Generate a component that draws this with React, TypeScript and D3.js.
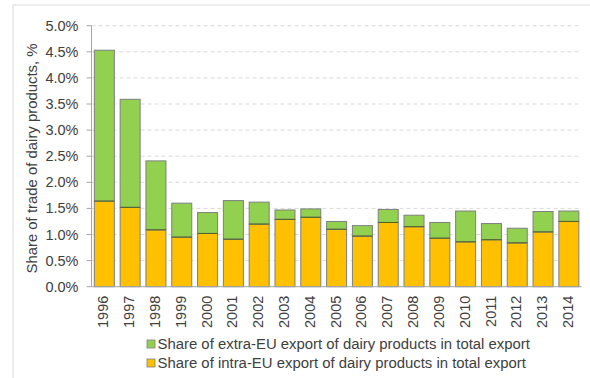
import React from "react";
import * as d3 from "d3";

const years = ["1996","1997","1998","1999","2000","2001","2002","2003","2004","2005","2006","2007","2008","2009","2010","2011","2012","2013","2014"];
const intraEU = [1.64,1.52,1.09,0.95,1.02,0.91,1.20,1.29,1.33,1.10,0.97,1.23,1.15,0.93,0.86,0.90,0.84,1.05,1.25];
const totalShare = [4.53,3.59,2.41,1.60,1.42,1.65,1.62,1.47,1.49,1.25,1.17,1.48,1.37,1.23,1.45,1.21,1.12,1.44,1.45];
const extraEU = totalShare.map((t, i) => +(t - intraEU[i]).toFixed(2));
const yTicks = [0,0.5,1,1.5,2,2.5,3,3.5,4,4.5,5];
const legendLabels = [
  "Share of extra-EU export of dairy products in total export",
  "Share of intra-EU export of dairy products in total export",
];
const colors = { extra: "#92D050", intra: "#FFC000" };

export default function App() {
  const W = 590, H = 378;
  const left = 91.5, right = 581.7, top = 25.7, bottom = 286.7;
  const x = d3.scaleBand().domain(years).range([left, right]).paddingInner(0.225).paddingOuter(0.11);
  const y = d3.scaleLinear().domain([0, 5]).range([bottom, top]);
  const font = "'Liberation Sans', Arial, sans-serif";
  const txt = "#404040";
  const fs = 14.5;
  const fsBig = 14.9;
  return (
    <svg width={W} height={H} style={{ position: "absolute", left: 0, top: 0, background: "#fff" }} fontFamily={font}>
      <rect x={13} y={5} width={W} height={H} fill="none" stroke="#e6e6e6" strokeWidth={1.5} />
      {yTicks.map((t) => (
        <g key={t}>
          {t > 0 && (
            <line x1={left} x2={right} y1={y(t)} y2={y(t)} stroke="#d9d9d9" strokeDasharray="4,3" strokeWidth={1} />
          )}
          <line x1={left - 5} x2={left} y1={y(t)} y2={y(t)} stroke="#a6a6a6" />
          <text x={78.5} y={y(t)} dy="0.35em" textAnchor="end" fontSize={fs} fill={txt}>
            {t.toFixed(1)}%
          </text>
        </g>
      ))}
      {years.map((yr, i) => {
        const bx = x(yr)!;
        const bw = x.bandwidth();
        return (
          <g key={yr}>
            <rect x={bx} y={y(intraEU[i])} width={bw} height={y(0) - y(intraEU[i])} fill={colors.intra} stroke="#7f7f7f" strokeWidth={1} />
            <rect x={bx} y={y(intraEU[i] + extraEU[i])} width={bw} height={y(intraEU[i]) - y(intraEU[i] + extraEU[i])} fill={colors.extra} stroke="#7f7f7f" strokeWidth={1} />
            <line x1={bx} x2={bx + bw} y1={y(intraEU[i])} y2={y(intraEU[i])} stroke="#4f6228" strokeWidth={1} />
            <text transform={`translate(${bx + bw / 2},${bottom + 9}) rotate(-90)`} dy="0.28em" textAnchor="end" fontSize={fs} fill={txt}>
              {yr}
            </text>
          </g>
        );
      })}
      <line x1={left} x2={left} y1={top} y2={bottom} stroke="#a6a6a6" />
      <line x1={left} x2={right} y1={bottom} y2={bottom} stroke="#a6a6a6" />
      <text transform={`translate(37,${158.5}) rotate(-90)`} textAnchor="middle" fontSize={fsBig} fill={txt}>
        Share of trade of dairy products, %
      </text>
      {legendLabels.map((l, i) => (
        <g key={l}>
          <rect x={147} y={340 + i * 19} width={8} height={8} fill={i === 0 ? colors.extra : colors.intra} stroke="#7f7f7f" strokeWidth={0.8} />
          <text x={157.5} y={349 + i * 18.7} fontSize={fsBig} fill={txt}>
            {l}
          </text>
        </g>
      ))}
    </svg>
  );
}
